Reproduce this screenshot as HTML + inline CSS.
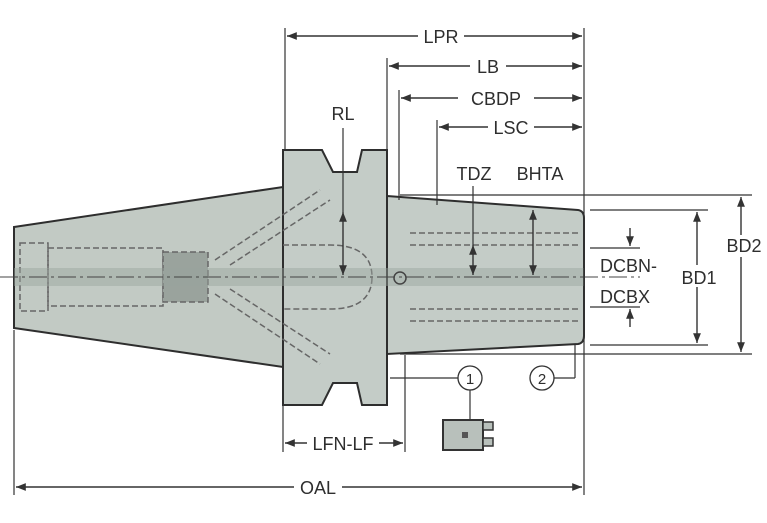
<!DOCTYPE html>
<html><head><style>
html,body{margin:0;padding:0;background:#fff;width:767px;height:523px;overflow:hidden}
text{font-family:"Liberation Sans",sans-serif;font-size:18px;fill:#2e2e2e}
</style></head><body>
<svg width="767" height="523" viewBox="0 0 767 523" xmlns="http://www.w3.org/2000/svg">
<defs>
<marker id="a" viewBox="0 0 10 10" refX="10" refY="5" markerWidth="7" markerHeight="7" orient="auto-start-reverse"><path d="M0,1 L10,5 L0,9 z" fill="#333"/></marker>
</defs>
<g stroke="#2e2e2e" stroke-width="2">
<polygon points="14,227 283,187 283,367 14,328" fill="#c2cac4"/>
<polygon points="283,150 322,150 333,172 357,172 362,150 387,150 387,405 362,405 357,383 333,383 322,405 283,405" fill="#c4ccc7"/>
<path d="M387,196 L578,210 Q584,211 584,218 L584,336 Q584,343 578,344 L387,354 Z" fill="#c4ccc7"/>
</g>
<g stroke="#666" stroke-width="1.5" fill="none" stroke-dasharray="6,3">
<rect x="20" y="243" width="28" height="68"/>
<rect x="48" y="248" width="115" height="58"/>
<rect x="163" y="252" width="45" height="50" fill="#9aa39d"/>
<path d="M215,260 L320,190 M215,294 L320,364 M230,265 L330,200 M230,289 L330,354"/>
<path d="M283,245 L330,245 Q372,245 372,277 Q372,309 330,309 L283,309"/>
<path d="M410,233 L580,233 M410,245 L580,245 M410,309 L580,309 M410,321 L580,321"/>
</g>
<rect x="14" y="268" width="570" height="18" fill="#9aa39d" opacity="0.45"/>
<line x1="0" y1="277" x2="640" y2="277" stroke="#444" stroke-width="1" stroke-dasharray="18,4,3,4"/>
<circle cx="400" cy="278" r="6" fill="none" stroke="#444" stroke-width="1.5"/>
<g stroke="#333" stroke-width="1.2">
<line x1="285" y1="28" x2="285" y2="150"/>
<line x1="584" y1="28" x2="584" y2="495"/>
<line x1="387" y1="58" x2="387" y2="150"/>
<line x1="399" y1="90" x2="399" y2="200"/>
<line x1="437" y1="120" x2="437" y2="205"/>
<line x1="14" y1="330" x2="14" y2="495"/>
<line x1="283" y1="405" x2="283" y2="452"/>
<line x1="405" y1="355" x2="405" y2="452"/>
<line x1="400" y1="195" x2="752" y2="195"/>
<line x1="400" y1="354" x2="752" y2="354"/>
<line x1="590" y1="210" x2="708" y2="210"/>
<line x1="590" y1="345" x2="708" y2="345"/>
<line x1="590" y1="248" x2="640" y2="248"/>
<line x1="590" y1="307" x2="640" y2="307"/>
<line x1="390" y1="378" x2="458" y2="378"/>
<line x1="554" y1="378" x2="575" y2="378"/><line x1="575" y1="378" x2="575" y2="345"/>
<line x1="470" y1="390" x2="470" y2="420"/>
</g>
<g stroke="#333" stroke-width="1.4" marker-start="url(#a)" marker-end="url(#a)">
<line x1="287" y1="36" x2="582" y2="36"/>
<line x1="389" y1="66" x2="582" y2="66"/>
<line x1="401" y1="98" x2="582" y2="98"/>
<line x1="439" y1="127" x2="582" y2="127"/>
<line x1="16" y1="487" x2="582" y2="487"/>
<line x1="285" y1="443" x2="403" y2="443"/>
<line x1="741" y1="197" x2="741" y2="352"/>
<line x1="697" y1="212" x2="697" y2="343"/>
<line x1="343" y1="212" x2="343" y2="275"/>
<line x1="473" y1="245" x2="473" y2="275"/>
<line x1="533" y1="210" x2="533" y2="275"/>
</g>
<g stroke="#333" stroke-width="1.4" marker-end="url(#a)">
<line x1="630" y1="228" x2="630" y2="246"/>
<line x1="630" y1="327" x2="630" y2="309"/>
</g>
<line x1="343" y1="128" x2="343" y2="212" stroke="#333" stroke-width="1.2"/>
<line x1="473" y1="186" x2="473" y2="245" stroke="#333" stroke-width="1.2"/>
<g fill="#fff">
<rect x="418" y="26" width="46" height="20"/><rect x="470" y="56" width="36" height="20"/>
<rect x="458" y="88" width="76" height="20"/><rect x="488" y="117" width="46" height="20"/>
<rect x="294" y="477" width="48" height="20"/><rect x="307" y="433" width="72" height="20"/>
<rect x="676" y="265" width="46" height="22"/><rect x="724" y="235" width="40" height="22"/>
</g>
<text x="441" y="43" text-anchor="middle">LPR</text>
<text x="488" y="73" text-anchor="middle">LB</text>
<text x="496" y="105" text-anchor="middle">CBDP</text>
<text x="511" y="134" text-anchor="middle">LSC</text>
<text x="343" y="120" text-anchor="middle">RL</text>
<text x="474" y="180" text-anchor="middle">TDZ</text>
<text x="540" y="180" text-anchor="middle">BHTA</text>
<text x="600" y="272">DCBN-</text>
<text x="600" y="303">DCBX</text>
<text x="699" y="284" text-anchor="middle">BD1</text>
<text x="744" y="252" text-anchor="middle">BD2</text>
<text x="318" y="494" text-anchor="middle">OAL</text>
<text x="343" y="450" text-anchor="middle">LFN-LF</text>
<circle cx="470" cy="378" r="12" fill="#fff" stroke="#333" stroke-width="1.3"/>
<circle cx="542" cy="378" r="12" fill="#fff" stroke="#333" stroke-width="1.3"/>
<text x="470" y="384" text-anchor="middle" style="font-size:15px">1</text>
<text x="542" y="384" text-anchor="middle" style="font-size:15px">2</text>
<rect x="443" y="420" width="40" height="30" fill="#b8c0bb" stroke="#333" stroke-width="2"/>
<rect x="483" y="422" width="10" height="8" fill="#b8c0bb" stroke="#333" stroke-width="1.5"/>
<rect x="483" y="438" width="10" height="8" fill="#b8c0bb" stroke="#333" stroke-width="1.5"/>
<rect x="462" y="432" width="6" height="6" fill="#555"/>
</svg>
</body></html>
